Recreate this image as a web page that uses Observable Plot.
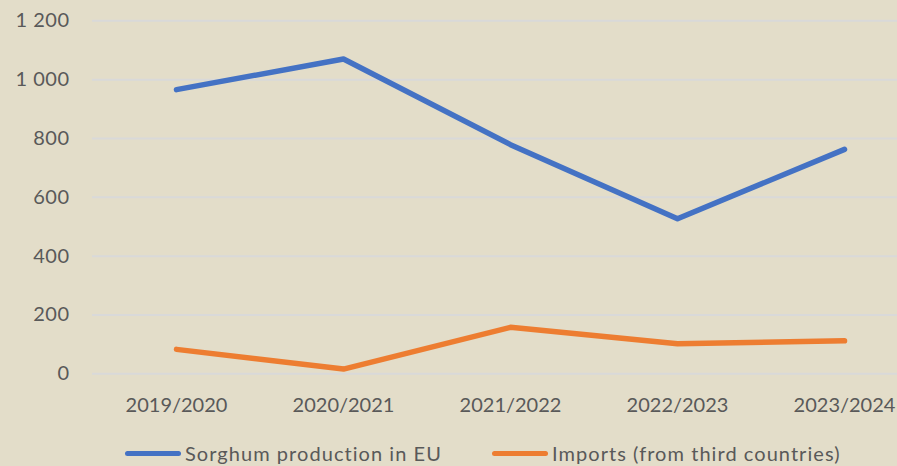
<!DOCTYPE html>
<html>
<head>
<meta charset="utf-8">
<script src="https://cdn.jsdelivr.net/npm/d3@7"></script>
<script src="https://cdn.jsdelivr.net/npm/@observablehq/plot@0.6"></script>
<style>
  html, body { margin: 0; padding: 0; background: #e3ddc9; }
  body { position: relative; width: 897px; height: 466px; overflow: hidden; font-family: Lato, "Open Sans", sans-serif; color: #595959; }
  #chart svg { display: block; }
  #chart svg g[aria-label="y-axis tick label"] text { letter-spacing: 0.5px; }
  .legend { position: absolute; top: 441px; left: 0; width: 897px; height: 24px; font-size: 20px; letter-spacing: 1.05px; }
  .item { position: absolute; top: 0; height: 24px; display: flex; align-items: center; }
  .sw { width: 56px; height: 5px; border-radius: 3px; margin-right: 4px; }
</style>
</head>
<body>
<div id="chart"></div>
<div class="legend" id="legend"></div>
<script>
const seasons = ["2019/2020", "2020/2021", "2021/2022", "2022/2023", "2023/2024"];
const production = [966, 1070, 779, 527, 763];
const imports = [83, 16, 158, 102, 112];
const yTicks = [0, 200, 400, 600, 800, 1000, 1200];
const seriesNames = ["Sorghum production in EU", "Imports (from third countries)"];
const seriesColors = ["#4472C4", "#ED7D31"];

const rows = [];
seasons.forEach((s, i) => {
  rows.push({season: s, value: production[i], series: seriesNames[0]});
  rows.push({season: s, value: imports[i], series: seriesNames[1]});
});

const fmt = d => d3.format(",")(d).replace(/,/g, " ");

const plot = Plot.plot({
  width: 897,
  height: 430,
  marginLeft: 92,
  marginRight: 0,
  marginTop: 0,
  marginBottom: 57,
  style: {background: "transparent", color: "#595959", fontFamily: "Lato, 'Open Sans', sans-serif", fontSize: "20px"},
  x: {type: "point", domain: seasons, range: [92, 927], padding: 0.5, label: null},
  y: {domain: [0, 1200], range: [373.3, 20.3], label: null},
  color: {domain: seriesNames, range: seriesColors},
  marks: [
    Plot.gridY(yTicks, {stroke: "#d9d9d9", strokeOpacity: 1, strokeWidth: 2}),
    Plot.axisY(yTicks, {tickSize: 0, tickPadding: 23, tickFormat: fmt, label: null}),
    Plot.axisX(seasons, {tickSize: 0, tickPadding: 24, label: null}),
    Plot.line(rows, {x: "season", y: "value", z: "series", stroke: "series", strokeWidth: 5.5, strokeLinecap: "round", strokeLinejoin: "round"})
  ]
});
document.getElementById("chart").append(plot);

const legend = document.getElementById("legend");
const lefts = [125, 492];
seriesNames.forEach((name, i) => {
  const item = document.createElement("div");
  item.className = "item";
  item.style.left = lefts[i] + "px";
  const sw = document.createElement("span");
  sw.className = "sw";
  sw.style.background = seriesColors[i];
  const t = document.createElement("span");
  t.textContent = name;
  item.append(sw, t);
  legend.append(item);
});
</script>
</body>
</html>
